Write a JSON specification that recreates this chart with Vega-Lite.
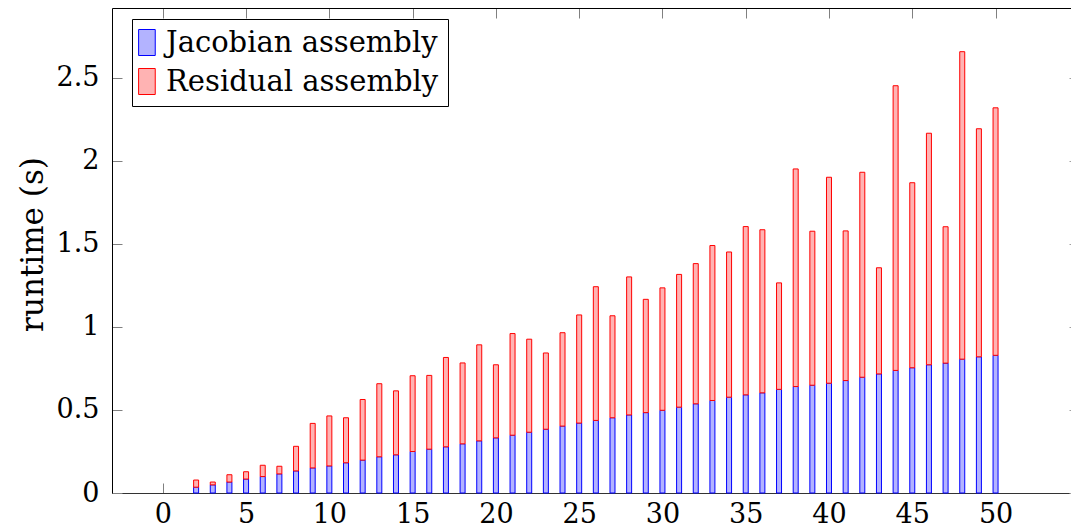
{
  "$schema": "https://vega.github.io/schema/vega-lite/v6.json",
  "width": 959,
  "height": 485,
  "autosize": {"type": "none"},
  "padding": {"left": 112, "top": 8, "right": 0, "bottom": 39},
  "background": "white",
  "config": {
    "font": "DejaVu Serif",
    "axis": {"labelFont": "DejaVu Serif", "titleFont": "DejaVu Serif"},
    "legend": {"labelFont": "DejaVu Serif"},
    "view": {"stroke": null}
  },
  "data": {"values": [
    {"n": 2, "Jacobian assembly": 0.035, "Residual assembly": 0.043},
    {"n": 3, "Jacobian assembly": 0.049, "Residual assembly": 0.017},
    {"n": 4, "Jacobian assembly": 0.066, "Residual assembly": 0.044},
    {"n": 5, "Jacobian assembly": 0.084, "Residual assembly": 0.044},
    {"n": 6, "Jacobian assembly": 0.099, "Residual assembly": 0.068},
    {"n": 7, "Jacobian assembly": 0.115, "Residual assembly": 0.046},
    {"n": 8, "Jacobian assembly": 0.133, "Residual assembly": 0.148},
    {"n": 9, "Jacobian assembly": 0.151, "Residual assembly": 0.268},
    {"n": 10, "Jacobian assembly": 0.163, "Residual assembly": 0.301},
    {"n": 11, "Jacobian assembly": 0.182, "Residual assembly": 0.271},
    {"n": 12, "Jacobian assembly": 0.198, "Residual assembly": 0.365},
    {"n": 13, "Jacobian assembly": 0.218, "Residual assembly": 0.440},
    {"n": 14, "Jacobian assembly": 0.230, "Residual assembly": 0.385},
    {"n": 15, "Jacobian assembly": 0.250, "Residual assembly": 0.456},
    {"n": 16, "Jacobian assembly": 0.264, "Residual assembly": 0.444},
    {"n": 17, "Jacobian assembly": 0.278, "Residual assembly": 0.538},
    {"n": 18, "Jacobian assembly": 0.296, "Residual assembly": 0.487},
    {"n": 19, "Jacobian assembly": 0.314, "Residual assembly": 0.578},
    {"n": 20, "Jacobian assembly": 0.332, "Residual assembly": 0.440},
    {"n": 21, "Jacobian assembly": 0.348, "Residual assembly": 0.612},
    {"n": 22, "Jacobian assembly": 0.366, "Residual assembly": 0.560},
    {"n": 23, "Jacobian assembly": 0.384, "Residual assembly": 0.459},
    {"n": 24, "Jacobian assembly": 0.403, "Residual assembly": 0.562},
    {"n": 25, "Jacobian assembly": 0.421, "Residual assembly": 0.651},
    {"n": 26, "Jacobian assembly": 0.437, "Residual assembly": 0.805},
    {"n": 27, "Jacobian assembly": 0.453, "Residual assembly": 0.614},
    {"n": 28, "Jacobian assembly": 0.470, "Residual assembly": 0.831},
    {"n": 29, "Jacobian assembly": 0.484, "Residual assembly": 0.682},
    {"n": 30, "Jacobian assembly": 0.498, "Residual assembly": 0.737},
    {"n": 31, "Jacobian assembly": 0.517, "Residual assembly": 0.799},
    {"n": 32, "Jacobian assembly": 0.537, "Residual assembly": 0.844},
    {"n": 33, "Jacobian assembly": 0.557, "Residual assembly": 0.933},
    {"n": 34, "Jacobian assembly": 0.577, "Residual assembly": 0.874},
    {"n": 35, "Jacobian assembly": 0.591, "Residual assembly": 1.013},
    {"n": 36, "Jacobian assembly": 0.603, "Residual assembly": 0.982},
    {"n": 37, "Jacobian assembly": 0.624, "Residual assembly": 0.641},
    {"n": 38, "Jacobian assembly": 0.641, "Residual assembly": 1.310},
    {"n": 39, "Jacobian assembly": 0.649, "Residual assembly": 0.927},
    {"n": 40, "Jacobian assembly": 0.661, "Residual assembly": 1.240},
    {"n": 41, "Jacobian assembly": 0.677, "Residual assembly": 0.901},
    {"n": 42, "Jacobian assembly": 0.697, "Residual assembly": 1.234},
    {"n": 43, "Jacobian assembly": 0.717, "Residual assembly": 0.639},
    {"n": 44, "Jacobian assembly": 0.738, "Residual assembly": 1.714},
    {"n": 45, "Jacobian assembly": 0.754, "Residual assembly": 1.114},
    {"n": 46, "Jacobian assembly": 0.772, "Residual assembly": 1.394},
    {"n": 47, "Jacobian assembly": 0.782, "Residual assembly": 0.821},
    {"n": 48, "Jacobian assembly": 0.806, "Residual assembly": 1.851},
    {"n": 49, "Jacobian assembly": 0.820, "Residual assembly": 1.373},
    {"n": 50, "Jacobian assembly": 0.829, "Residual assembly": 1.490}
  ]},
  "transform": [{"fold": ["Jacobian assembly", "Residual assembly"], "as": ["series", "runtime"]}],
  "layer": [
    {
      "mark": {"type": "bar", "size": 5, "strokeWidth": 1, "opacity": 1},
      "encoding": {
        "x": {
          "field": "n", "type": "quantitative",
          "scale": {"domain": [-2.75, 54.23], "nice": false, "zero": false},
          "axis": {
            "orient": "bottom", "values": [0, 5, 10, 15, 20, 25, 30, 35, 40, 45, 50], "format": "~g",
            "title": null, "grid": false, "labelFontSize": 27, "labelColor": "black",
            "tickSize": -10, "tickColor": "#808080", "tickWidth": 1,
            "domainColor": "#333333", "domainWidth": 1,
            "labelPadding": 18, "labelFlush": false, "labelOverlap": false
          }
        },
        "y": {
          "field": "runtime", "type": "quantitative", "stack": "zero",
          "scale": {"domain": [0, 2.92], "nice": false, "zero": false},
          "axis": {
            "orient": "left", "values": [0, 0.5, 1, 1.5, 2, 2.5], "format": "~g",
            "title": "runtime (s)", "titleFontSize": 31, "titleFontWeight": "normal", "titleColor": "black",
            "titleAngle": 270, "titleAlign": "center", "titleBaseline": "middle", "titleX": -79, "titleY": 236,
            "grid": false, "labelFontSize": 27, "labelColor": "black",
            "tickSize": -10, "tickColor": "#808080", "tickWidth": 1,
            "domainColor": "black", "domainWidth": 1,
            "labelPadding": 23, "labelFlush": false, "labelOverlap": false
          }
        },
        "fill": {
          "field": "series", "type": "nominal",
          "scale": {"domain": ["Jacobian assembly", "Residual assembly"], "range": ["#b3b3ff", "#ffb3b3"]},
          "legend": {
            "orient": "none", "legendX": 20, "legendY": 11, "title": null,
            "labelFontSize": 29, "labelColor": "black", "labelLimit": 500, "labelOffset": -4,
            "symbolType": "M-1.3,-1H-0.02V1H-1.3Z", "symbolSize": 676, "symbolStrokeWidth": 1, "symbolOpacity": 1,
            "padding": 9, "rowPadding": 8, "strokeColor": "black", "fillColor": "white"
          }
        },
        "stroke": {
          "field": "series", "type": "nominal",
          "scale": {"domain": ["Jacobian assembly", "Residual assembly"], "range": ["#0000ff", "#ff0000"]},
          "legend": {
            "orient": "none", "legendX": 20, "legendY": 11, "title": null,
            "labelFontSize": 29, "labelColor": "black", "labelLimit": 500, "labelOffset": -4,
            "symbolType": "M-1.3,-1H-0.02V1H-1.3Z", "symbolSize": 676, "symbolStrokeWidth": 1, "symbolOpacity": 1,
            "padding": 9, "rowPadding": 8, "strokeColor": "black", "fillColor": "white"
          }
        },
        "order": {"field": "series"}
      }
    },
    {
      "mark": {"type": "point", "opacity": 0},
      "encoding": {
        "x": {
          "field": "n", "type": "quantitative",
          "scale": {"domain": [-2.75, 54.23], "nice": false, "zero": false},
          "axis": {
            "orient": "top", "values": [0, 5, 10, 15, 20, 25, 30, 35, 40, 45, 50],
            "title": null, "grid": false, "labels": false,
            "tickSize": -10, "tickColor": "#808080", "tickWidth": 1,
            "domainColor": "black", "domainWidth": 1
          }
        },
        "y": {
          "field": "runtime", "type": "quantitative",
          "scale": {"domain": [0, 2.92], "nice": false, "zero": false},
          "axis": {
            "orient": "right", "values": [0, 0.5, 1, 1.5, 2, 2.5],
            "title": null, "grid": false, "labels": false, "domain": false,
            "tickSize": -2, "tickColor": "#a0a0a0", "tickWidth": 1
          }
        }
      }
    }
  ],
  "resolve": {"axis": {"x": "independent", "y": "independent"}}
}
